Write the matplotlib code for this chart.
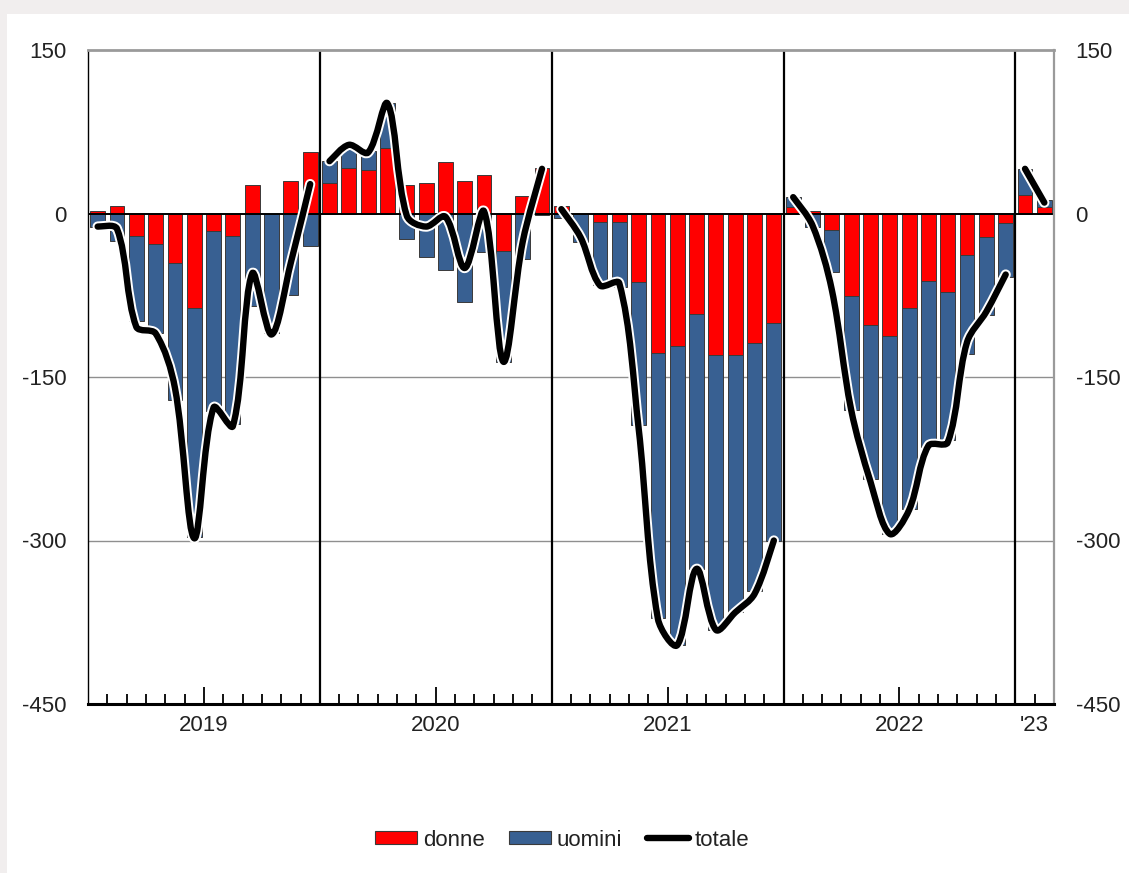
import numpy as np
import matplotlib
matplotlib.use('Agg')
import matplotlib.pyplot as plt
from matplotlib.path import Path
from matplotlib.patches import PathPatch, Rectangle, Patch
from matplotlib.lines import Line2D
from matplotlib.ticker import FixedLocator, FixedFormatter
import matplotlib.patheffects as pe

plt.rcParams['font.family'] = ['Liberation Sans', 'DejaVu Sans']

# ---------------- data ----------------
years = ['2019', '2020', '2021', '2022', "'23"]
months_per_year = [12, 12, 12, 12, 2]

donne = [2, 7, -21, -28, -45, -87, -16, -21, 26, 0, 30, 56,
         28, 42, 40, 60, 26, 28, 47, 30, 35, -34, 16, 42,
         7, 0, -8, -8, -63, -128, -122, -92, -130, -130, -119, -100,
         6, 2, -15, -76, -102, -112, -87, -62, -72, -38, -22, -9,
         17, 6]

uomini = [-12, -25, -78, -82, -126, -210, -165, -172, -85, -110, -75, -30,
          20, 20, 17, 41, -23, -40, -52, -81, -35, -102, -42, -1,
          -4, -26, -58, -59, -131, -243, -274, -234, -252, -236, -227, -200,
          9, -12, -39, -104, -142, -182, -184, -152, -136, -91, -71, -49,
          24, 6]

totale = [-12, -14, -104, -110, -160, -298, -178, -195, -55, -111, -45, 27,
          48, 63, 56, 101, -2, -12, -3, -50, 2, -136, -26, 41,
          4, -22, -66, -64, -197, -372, -396, -326, -382, -366, -349, -300,
          15, -11, -70, -180, -246, -294, -272, -213, -210, -118, -90, -56,
          41, 10]

y_ticks = [150, 0, -150, -300, -450]
y_labels = ['150', '0', '-150', '-300', '-450']

RED = '#FF0000'
BLUE = '#386092'
EDGE = '#3a3a3a'
TXT = '#222222'

# ---------------- figure ----------------
fig = plt.figure(figsize=(11.29, 8.73), dpi=100)
fig.patch.set_facecolor('#F1EEEE')
fig.patches.append(Rectangle((7 / 1129, 0), 1, 1 - 14 / 873, transform=fig.transFigure,
                             facecolor='white', edgecolor='none', zorder=-10))

ax = fig.add_axes([88 / 1129, 1 - 704 / 873, (1054 - 88) / 1129, 654 / 873])
ax.set_zorder(2)
ax.set_facecolor('white')

n = len(donne)
x = np.arange(n)
d = np.array(donne, dtype=float)
u = np.array(uomini, dtype=float)
same = (np.sign(d) == np.sign(u)) & (d != 0)
bottom_u = np.where(same, d, 0.0)

ax.set_xlim(-0.5, n - 0.5)
ax.set_ylim(-450, 150)

bw = 0.77
ax.bar(x, d, width=bw, color=RED, edgecolor=EDGE, linewidth=0.7, zorder=2)
ax.bar(x, u, width=bw, bottom=bottom_u, color=BLUE, edgecolor=EDGE, linewidth=0.7, zorder=2)

# gridlines and zero line
for yv in [-150, -300]:
    ax.axhline(yv, color='#8f8f8f', lw=1.0, zorder=1)
ax.axhline(0, color='black', lw=1.4, zorder=3)

# year separators
starts = np.cumsum([0] + months_per_year)
for s in starts[1:-1]:
    ax.axvline(s - 0.5, color='black', lw=1.6, zorder=4)


def smooth_path(xs, ys):
    """Cubic Bezier smoothing (length-weighted tangents, spreadsheet style)."""
    pts = np.column_stack([xs, ys]).astype(float)
    disp = ax.transData.transform(pts)
    m = len(pts)
    verts = [pts[0]]
    codes = [Path.MOVETO]

    def seglen(i, j):
        return np.hypot(*(disp[j] - disp[i]))

    def ctrl(i, forward):
        if i == 0 or i == m - 1:
            j = 1 if i == 0 else m - 2
            return pts[i] + (pts[j] - pts[i]) / 6.0
        t = pts[i + 1] - pts[i - 1]
        d0 = seglen(i - 1, i)
        d1 = seglen(i, i + 1)
        tot = d0 + d1
        if tot == 0:
            return pts[i]
        if forward:
            return pts[i] + t * (d1 / tot) / 3.0
        return pts[i] - t * (d0 / tot) / 3.0

    for i in range(m - 1):
        c1 = ctrl(i, True)
        c2 = ctrl(i + 1, False)
        verts += [c1, c2, pts[i + 1]]
        codes += [Path.CURVE4] * 3
    return Path(verts, codes)


tot = np.array(totale, dtype=float)
for a, b in zip(starts[:-1], starts[1:]):
    path = smooth_path(x[a:b], tot[a:b])
    patch = PathPatch(path, fill=False, edgecolor='black', lw=4.6, capstyle='round',
                      joinstyle='round', zorder=6,
                      path_effects=[pe.Stroke(linewidth=7.4, foreground='white', capstyle='round'),
                                    pe.Normal()])
    ax.add_patch(patch)

# y axis
ax.set_yticks(y_ticks)
ax.set_yticklabels(y_labels)
ax.tick_params(axis='y', which='both', length=0, labelsize=16, labelcolor=TXT,
               left=False, right=False, labelleft=True, labelright=True, pad=15.5)

# x axis ticks
year_centers = [(a + b - 1) / 2 for a, b in zip(starts[:-1], starts[1:])]
major_pos = [year_centers[i] for i in range(4)]
ax.xaxis.set_major_locator(FixedLocator(major_pos))
ax.xaxis.set_major_formatter(FixedFormatter(years[:4]))
boundaries = set(float(s - 0.5) for s in starts[1:-1])
minor_pos = [i + 0.5 for i in range(n - 1)
             if (i + 0.5) not in boundaries and (i + 0.5) not in major_pos]
minor_labels = ["'23" if abs(p - year_centers[4]) < 1e-9 else '' for p in minor_pos]
ax.xaxis.set_minor_locator(FixedLocator(minor_pos))
ax.xaxis.set_minor_formatter(FixedFormatter(minor_labels))
ax.tick_params(axis='x', which='major', direction='in', length=12, width=1.3,
               color='black', labelsize=16, labelcolor=TXT, pad=8, top=False)
ax.tick_params(axis='x', which='minor', direction='in', length=7, width=1.3,
               color='black', labelsize=16, labelcolor=TXT, pad=8, top=False)

# spines
ax.spines['top'].set_color('#9a9a9a')
ax.spines['top'].set_linewidth(2.0)
ax.spines['right'].set_color('#9a9a9a')
ax.spines['right'].set_linewidth(1.6)
ax.spines['left'].set_color('black')
ax.spines['left'].set_linewidth(1.0)
ax.spines['bottom'].set_color('black')
ax.spines['bottom'].set_linewidth(2.2)
for sp in ax.spines.values():
    sp.set_zorder(7)

# legend
handles = [Patch(facecolor=RED, edgecolor=EDGE, linewidth=0.8, label='donne'),
           Patch(facecolor=BLUE, edgecolor=EDGE, linewidth=0.8, label='uomini'),
           Line2D([0], [0], color='black', lw=4.6, solid_capstyle='round', label='totale')]
leg = fig.legend(handles=handles, loc='center', bbox_to_anchor=(562 / 1129, 1 - 840 / 873),
                 ncol=3, frameon=False, fontsize=16, handlelength=1.9, handleheight=0.55,
                 handletextpad=0.25, columnspacing=1.1)
for t in leg.get_texts():
    t.set_color(TXT)

fig.savefig('out.png', dpi=100, facecolor=fig.get_facecolor())
